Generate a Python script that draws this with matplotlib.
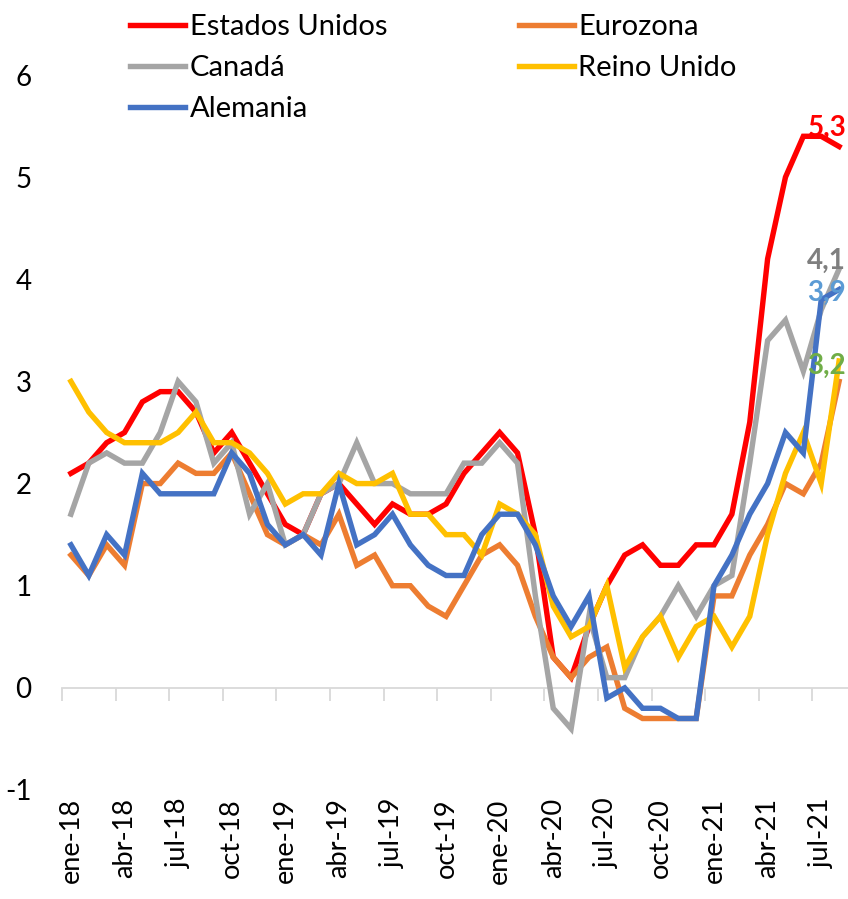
import numpy as np
import matplotlib
matplotlib.use("Agg")
import matplotlib.pyplot as plt

plt.rcParams['font.family'] = ['Lato', 'DejaVu Sans']

# Inflación interanual (%), ene-18 a ago-21
estados_unidos = [2.1, 2.2, 2.4, 2.5, 2.8, 2.9, 2.9, 2.7, 2.3, 2.5, 2.2, 1.9,
                  1.6, 1.5, 1.9, 2.0, 1.8, 1.6, 1.8, 1.7, 1.7, 1.8, 2.1, 2.3,
                  2.5, 2.3, 1.5, 0.3, 0.1, 0.6, 1.0, 1.3, 1.4, 1.2, 1.2, 1.4,
                  1.4, 1.7, 2.6, 4.2, 5.0, 5.4, 5.4, 5.3]
eurozona = [1.3, 1.1, 1.4, 1.2, 2.0, 2.0, 2.2, 2.1, 2.1, 2.3, 1.9, 1.5,
            1.4, 1.5, 1.4, 1.7, 1.2, 1.3, 1.0, 1.0, 0.8, 0.7, 1.0, 1.3,
            1.4, 1.2, 0.7, 0.3, 0.1, 0.3, 0.4, -0.2, -0.3, -0.3, -0.3, -0.3,
            0.9, 0.9, 1.3, 1.6, 2.0, 1.9, 2.2, 3.0]
canada = [1.7, 2.2, 2.3, 2.2, 2.2, 2.5, 3.0, 2.8, 2.2, 2.4, 1.7, 2.0,
          1.4, 1.5, 1.9, 2.0, 2.4, 2.0, 2.0, 1.9, 1.9, 1.9, 2.2, 2.2,
          2.4, 2.2, 0.9, -0.2, -0.4, 0.7, 0.1, 0.1, 0.5, 0.7, 1.0, 0.7,
          1.0, 1.1, 2.2, 3.4, 3.6, 3.1, 3.7, 4.1]
reino_unido = [3.0, 2.7, 2.5, 2.4, 2.4, 2.4, 2.5, 2.7, 2.4, 2.4, 2.3, 2.1,
               1.8, 1.9, 1.9, 2.1, 2.0, 2.0, 2.1, 1.7, 1.7, 1.5, 1.5, 1.3,
               1.8, 1.7, 1.5, 0.8, 0.5, 0.6, 1.0, 0.2, 0.5, 0.7, 0.3, 0.6,
               0.7, 0.4, 0.7, 1.5, 2.1, 2.5, 2.0, 3.2]
alemania = [1.4, 1.1, 1.5, 1.3, 2.1, 1.9, 1.9, 1.9, 1.9, 2.3, 2.1, 1.6,
            1.4, 1.5, 1.3, 2.0, 1.4, 1.5, 1.7, 1.4, 1.2, 1.1, 1.1, 1.5,
            1.7, 1.7, 1.4, 0.9, 0.6, 0.9, -0.1, 0.0, -0.2, -0.2, -0.3, -0.3,
            1.0, 1.3, 1.7, 2.0, 2.5, 2.3, 3.8, 3.9]

meses = ["ene", "feb", "mar", "abr", "may", "jun", "jul", "ago", "sep", "oct", "nov", "dic"]
fechas = [f"{m}-{a}" for a in ["18", "19", "20", "21"] for m in meses][:44]

series = [
    ("Estados Unidos", estados_unidos, "#FF0000"),
    ("Eurozona", eurozona, "#ED7D31"),
    ("Canadá", canada, "#A5A5A5"),
    ("Reino Unido", reino_unido, "#FFC000"),
    ("Alemania", alemania, "#4472C4"),
]

# etiquetas del último dato
etiquetas = [
    (estados_unidos, "#FF0000", 0.18),
    (canada, "#7F7F7F", 0.08),
    (alemania, "#5B9BD5", -0.03),
    (reino_unido, "#70AD47", -0.05),
]


def main():
    fig = plt.figure(figsize=(8.48, 8.99), dpi=100)
    ax = fig.add_axes([62 / 848, 109 / 899, 786 / 848, 715 / 899])

    x = np.arange(len(fechas))
    lines = {}
    for name, values, color in series:
        lines[name], = ax.plot(x, values, color=color, linewidth=3.9,
                               solid_joinstyle="miter", label=name)

    for values, color, dy in etiquetas:
        txt = f"{values[-1]:.1f}".replace(".", ",")
        ax.text(len(fechas) - 0.6, values[-1] + dy, txt, color=color,
                fontsize=20, fontweight="bold", ha="right", va="center")

    ax.set_xlim(-0.5, len(fechas) - 0.5)
    ax.set_ylim(-1, 6)
    ax.set_yticks(range(-1, 7))
    ax.set_yticklabels([str(v) for v in range(-1, 7)], fontsize=20)
    ax.tick_params(axis="y", length=0, pad=22)

    ax.set_xticks(x[::3])
    ax.set_xticklabels(fechas[::3], rotation=90, fontsize=19.5)
    ax.tick_params(axis="x", length=0, pad=6)

    for s in ax.spines.values():
        s.set_visible(False)

    # eje de categorías en el cero
    y0 = (0 - (-1)) / 7
    sec = ax.secondary_xaxis(y0)
    sec.set_xticks(np.arange(-0.5, len(fechas), 3))
    sec.set_xticklabels([])
    sec.tick_params(axis="x", direction="out", length=9, width=1.3,
                    color="#D9D9D9")
    sec.spines["bottom"].set_color("#D9D9D9")
    sec.spines["bottom"].set_linewidth(1.3)
    sec.spines["top"].set_visible(False)
    sec.xaxis.set_ticks_position("bottom")

    orden = ["Estados Unidos", "Canadá", "Alemania", "Eurozona", "Reino Unido"]
    ax.legend([lines[n] for n in orden], orden, ncol=2, frameon=False,
              loc="upper left", bbox_to_anchor=(130 / 848, 1 - 14 / 899),
              bbox_transform=fig.transFigure, fontsize=21,
              handlelength=1.9, handletextpad=0.15, labelspacing=0.52,
              columnspacing=4.5, borderpad=0, borderaxespad=0)

    fig.savefig("out.png", dpi=100)


if __name__ == '__main__':
    main()
